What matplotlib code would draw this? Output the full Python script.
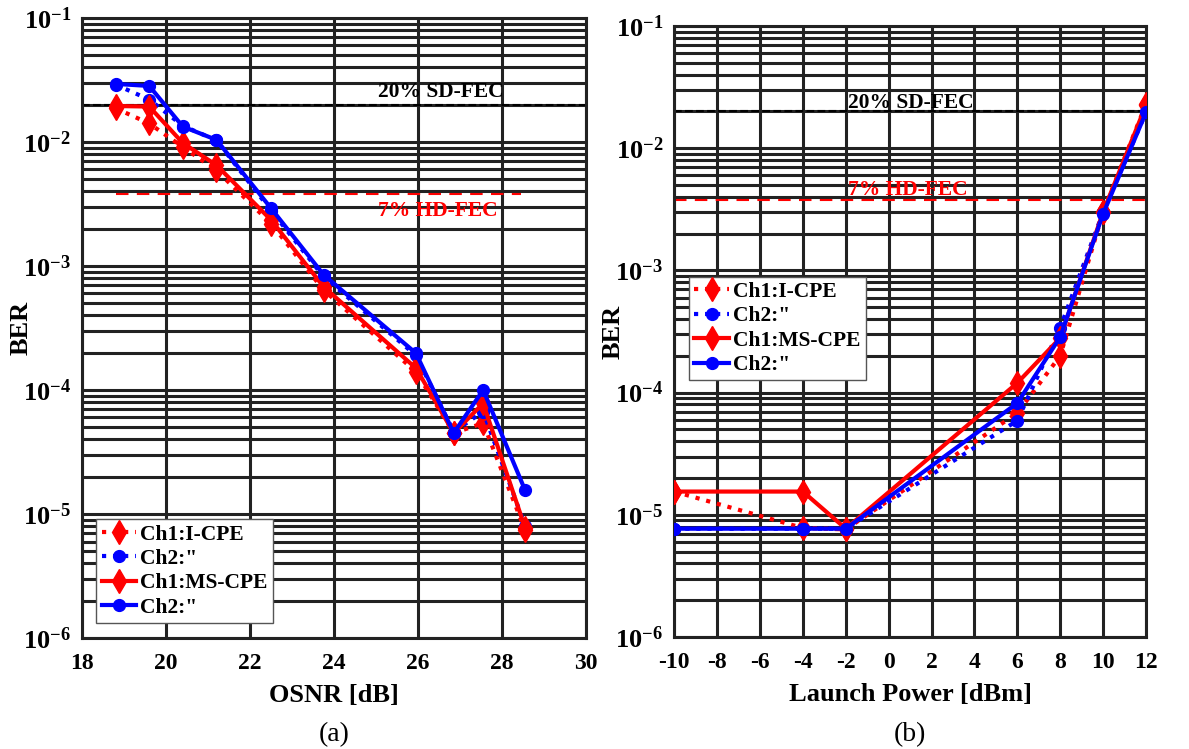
import matplotlib
matplotlib.use("Agg")
import matplotlib.pyplot as plt
from matplotlib.ticker import LogLocator, FixedLocator, NullFormatter, FixedFormatter
import numpy as np

plt.rcParams['font.family'] = ['Liberation Serif', 'DejaVu Serif']
plt.rcParams['mathtext.fontset'] = 'custom'
plt.rcParams['mathtext.rm'] = 'Liberation Serif:bold'
plt.rcParams['mathtext.bf'] = 'Liberation Serif:bold'
plt.rcParams['mathtext.it'] = 'Liberation Serif:bold'

# ---------- data: panel (a) ----------
osnr = [18.8, 19.6, 20.4, 21.2, 22.5, 23.75, 25.95, 26.85, 27.55, 28.55]
a_ch1_icpe = [0.0187, 0.0141, 0.0091, 0.0059, 0.0022, 6.4e-4, 1.4e-4, 4.5e-5, 5.4e-5, 7.4e-6]
a_ch2_icpe = [0.029, 0.022, 0.0135, 0.0103, 0.0028, 8.2e-4, 1.9e-4, 4.6e-5, 6.7e-5, 8.0e-6]
a_ch1_mscpe = [0.0195, 0.0193, 0.0098, 0.0065, 0.00235, 6.8e-4, 1.5e-4, 4.5e-5, 7.8e-5, 7.7e-6]
a_ch2_mscpe = [0.0294, 0.0283, 0.0133, 0.0104, 0.00292, 8.5e-4, 1.98e-4, 4.5e-5, 1.0e-4, 1.55e-5]

# ---------- data: panel (b) ----------
power = [-10, -4, -2, 6, 8, 10, 12]
b_ch1_icpe = [1.55e-5, 7.8e-6, 7.6e-6, 6.8e-5, 2.0e-4, 3.0e-3, 0.023]
b_ch2_icpe = [7.7e-6, 7.7e-6, 7.7e-6, 5.9e-5, 3.4e-4, 3.0e-3, 0.0196]
b_ch1_mscpe = [1.55e-5, 1.55e-5, 7.7e-6, 1.2e-4, 2.8e-4, 3.0e-3, 0.0225]
b_ch2_mscpe = [7.7e-6, 7.7e-6, 7.7e-6, 8.2e-5, 2.85e-4, 2.9e-3, 0.0196]

labels = ['Ch1:I-CPE', 'Ch2:"', 'Ch1:MS-CPE', 'Ch2:"']
sd_fec = 0.02
hd_fec = 3.8e-3

ytick_vals = [1e-6, 1e-5, 1e-4, 1e-3, 1e-2, 1e-1]
ytick_labels = [r'$\mathbf{10^{-6}}$', r'$\mathbf{10^{-5}}$', r'$\mathbf{10^{-4}}$',
                r'$\mathbf{10^{-3}}$', r'$\mathbf{10^{-2}}$', r'$\mathbf{10^{-1}}$']

fig = plt.figure(figsize=(11.89, 7.49), dpi=100)
axA = fig.add_axes([0.069, 0.1482, 0.4239, 0.8278])
axB = fig.add_axes([0.5671, 0.1495, 0.3967, 0.8158])

gridc = '#222222'
styles = [
    dict(color='red', ls=':', marker='d', ms=12),
    dict(color='blue', ls=':', marker='o', ms=8.5),
    dict(color='red', ls='-', marker='d', ms=12),
    dict(color='blue', ls='-', marker='o', ms=8.5),
]

def setup(ax, xlim, xticks, xlabel):
    ax.set_yscale('log')
    ax.set_ylim(1e-6, 1e-1)
    ax.set_xlim(*xlim)
    ax.xaxis.set_major_locator(FixedLocator(xticks))
    ax.set_xticklabels([str(t) for t in xticks], fontsize=17, fontweight='bold')
    ax.yaxis.set_major_locator(FixedLocator(ytick_vals))
    ax.yaxis.set_major_formatter(FixedFormatter(ytick_labels))
    ax.yaxis.set_minor_locator(LogLocator(base=10, subs=np.arange(2, 10), numticks=20))
    ax.yaxis.set_minor_formatter(NullFormatter())
    for lab in ax.get_yticklabels():
        lab.set_fontsize(19)
    ax.grid(True, which='major', axis='both', color=gridc, lw=2.2)
    ax.grid(True, which='minor', axis='y', color=gridc, lw=2.2)
    ax.tick_params(axis='x', which='both', length=0, pad=11)
    ax.tick_params(axis='y', which='both', length=0, pad=8)
    for s in ax.spines.values():
        s.set_linewidth(2.2)
        s.set_color(gridc)
    ax.set_axisbelow(True)
    ax.set_xlabel(xlabel, fontsize=19, fontweight='bold', labelpad=7)
    ax.set_ylabel('BER', fontsize=19, fontweight='bold', labelpad=-7)

setup(axA, (18, 30), [18, 20, 22, 24, 26, 28, 30], 'OSNR [dB]')
setup(axB, (-10, 12), list(range(-10, 13, 2)), 'Launch Power [dBm]')

for ys, st, lab in zip([a_ch1_icpe, a_ch2_icpe, a_ch1_mscpe, a_ch2_mscpe], styles, labels):
    axA.plot(osnr, ys, lw=3, label=lab, zorder=3, **st)
for ys, st, lab in zip([b_ch1_icpe, b_ch2_icpe, b_ch1_mscpe, b_ch2_mscpe], styles, labels):
    axB.plot(power, ys, lw=3, label=lab, zorder=3, **st)

# FEC thresholds
axA.plot([18, 30], [sd_fec, sd_fec], color='black', ls='--', lw=1.5, zorder=2)
axA.plot([18.8, 28.45], [hd_fec, hd_fec], color='red', ls=(0, (6, 4)), lw=1.5, zorder=2)
axA.text(25.05, 0.0253, '20% SD-FEC', fontsize=15.5, fontweight='bold', color='black',
         ha='left', va='center', zorder=4)
axA.text(25.05, 0.0028, '7% HD-FEC', fontsize=15.5, fontweight='bold', color='red',
         ha='left', va='center', zorder=4)

axB.plot([-10, 12], [sd_fec, sd_fec], color='black', ls='--', lw=1.5, zorder=2)
axB.plot([-10, 12], [hd_fec, hd_fec], color='red', ls=(0, (6, 4)), lw=1.5, zorder=2)
axB.text(-1.9, 0.0234, '20% SD-FEC', fontsize=15.5, fontweight='bold', color='black',
         ha='left', va='center', zorder=4)
axB.text(-1.9, 0.00455, '7% HD-FEC', fontsize=15.5, fontweight='bold', color='red',
         ha='left', va='center', zorder=4)

legprops = dict(prop={'weight': 'bold', 'size': 15.5}, frameon=True, fancybox=False,
                framealpha=1, edgecolor='#555555', handlelength=1.6, handletextpad=0.2,
                borderpad=0.25, labelspacing=0.2, borderaxespad=0.0)
legA = axA.legend(loc='lower left', bbox_to_anchor=(0.028, 0.024), **legprops)
legB = axB.legend(loc='upper left', bbox_to_anchor=(0.031, 0.59), **legprops)
for leg in (legA, legB):
    leg.get_frame().set_linewidth(1.0)
    leg.set_zorder(5)

fig.text(334 / 1189, 1 - 735 / 749, '(a)', fontsize=20, ha='center', va='center')
fig.text(910 / 1189, 1 - 735 / 749, '(b)', fontsize=20, ha='center', va='center')

fig.savefig('out.png', dpi=100)
